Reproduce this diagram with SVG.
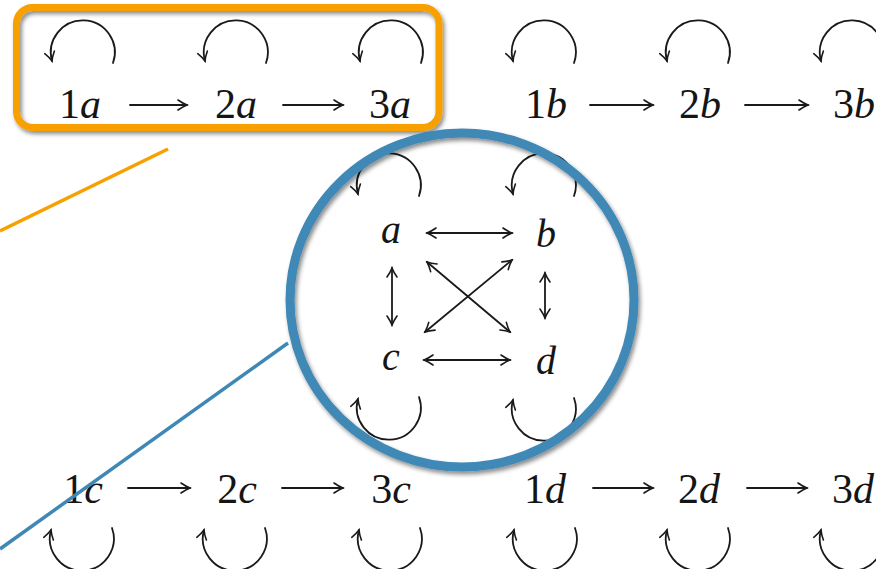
<svg xmlns="http://www.w3.org/2000/svg" xmlns:xlink="http://www.w3.org/1999/xlink" width="876" height="569" viewBox="0 0 876 569">
<style>
.lbl{font-family:"Liberation Serif","DejaVu Serif",serif;font-size:42px;fill:#151515;text-anchor:middle}
.sm{font-size:40px}
.it{font-style:italic}
.edge{fill:none;stroke:#1a1a1a;stroke-width:1.8;stroke-linecap:round}
.one{marker-end:url(#ah)}
.two{marker-end:url(#ah);marker-start:url(#ah)}
</style>
<defs>
<marker id="ah" markerUnits="userSpaceOnUse" viewBox="-11 -7 13 14" refX="0" refY="0" markerWidth="13" markerHeight="14" orient="auto-start-reverse">
<path d="M -9 -5 Q -4 -1.5 0 0 Q -4 1.5 -9 5" fill="none" stroke="#1a1a1a" stroke-width="1.6" stroke-linecap="round"/>
</marker>
<path id="loopTop" class="edge one" d="M 31 0 A 32 32 0 1 0 -30 -2"/>
<path id="loopBot" class="edge one" d="M 31 0 A 32 32 0 1 1 -30 2"/>
<filter id="sh" x="-20%" y="-20%" width="140%" height="140%">
<feDropShadow dx="2" dy="3" stdDeviation="2.2" flood-color="#000" flood-opacity="0.45"/>
</filter>
</defs>
<rect width="876" height="569" fill="#ffffff"/>

<g id="callout-lines">
<line x1="168" y1="149" x2="0" y2="231" stroke="#f7a000" stroke-width="3.5"/>
</g>

<g id="n1a"><text class="lbl" x="80" y="118">1<tspan class="it">a</tspan></text></g>
<g id="n2a"><text class="lbl" x="236" y="118">2<tspan class="it">a</tspan></text></g>
<g id="n3a"><text class="lbl" x="390" y="118">3<tspan class="it">a</tspan></text></g>
<g id="n1b"><text class="lbl" x="546" y="118">1<tspan class="it">b</tspan></text></g>
<g id="n2b"><text class="lbl" x="700" y="118">2<tspan class="it">b</tspan></text></g>
<g id="n3b"><text class="lbl" x="854" y="118">3<tspan class="it">b</tspan></text></g>
<g id="n1c"><text class="lbl" x="83" y="503">1<tspan class="it">c</tspan></text></g>
<g id="n2c"><text class="lbl" x="237" y="503">2<tspan class="it">c</tspan></text></g>
<g id="n3c"><text class="lbl" x="391" y="503">3<tspan class="it">c</tspan></text></g>
<g id="n1d"><text class="lbl" x="545" y="503">1<tspan class="it">d</tspan></text></g>
<g id="n2d"><text class="lbl" x="699" y="503">2<tspan class="it">d</tspan></text></g>
<g id="n3d"><text class="lbl" x="853" y="503">3<tspan class="it">d</tspan></text></g>

<g id="na"><text class="lbl sm it" x="391" y="243">a</text></g>
<g id="nb"><text class="lbl sm it" x="546" y="247">b</text></g>
<g id="nc"><text class="lbl sm it" x="391" y="370">c</text></g>
<g id="nd"><text class="lbl sm it" x="546" y="374">d</text></g>

<g id="connectors">
<line class="edge one" x1="130" y1="105" x2="187" y2="105"/>
<line class="edge one" x1="283" y1="105" x2="343" y2="105"/>
<line class="edge one" x1="590" y1="105" x2="653" y2="105"/>
<line class="edge one" x1="745" y1="105" x2="808" y2="105"/>
<line class="edge one" x1="128" y1="488" x2="190" y2="488"/>
<line class="edge one" x1="282" y1="488" x2="343" y2="488"/>
<line class="edge one" x1="593" y1="488" x2="653" y2="488"/>
<line class="edge one" x1="747" y1="488" x2="807" y2="488"/>
<use xlink:href="#loopTop" href="#loopTop" x="82" y="63"/>
<use xlink:href="#loopTop" href="#loopTop" x="235" y="63"/>
<use xlink:href="#loopTop" href="#loopTop" x="390" y="63"/>
<use xlink:href="#loopTop" href="#loopTop" x="543" y="63"/>
<use xlink:href="#loopTop" href="#loopTop" x="697" y="63"/>
<use xlink:href="#loopTop" href="#loopTop" x="851" y="63"/>
<use xlink:href="#loopBot" href="#loopBot" x="81" y="528"/>
<use xlink:href="#loopBot" href="#loopBot" x="234" y="528"/>
<use xlink:href="#loopBot" href="#loopBot" x="389" y="528"/>
<use xlink:href="#loopBot" href="#loopBot" x="544" y="528"/>
<use xlink:href="#loopBot" href="#loopBot" x="697" y="528"/>
<use xlink:href="#loopBot" href="#loopBot" x="851" y="528"/>
<use xlink:href="#loopTop" href="#loopTop" x="388" y="196"/>
<use xlink:href="#loopTop" href="#loopTop" x="543" y="196"/>
<use xlink:href="#loopBot" href="#loopBot" x="388" y="397"/>
<use xlink:href="#loopBot" href="#loopBot" x="543" y="398"/>
<line class="edge two" x1="427" y1="233" x2="512" y2="233"/>
<line class="edge two" x1="424" y1="360" x2="510" y2="360"/>
<line class="edge two" x1="392" y1="268" x2="392" y2="325"/>
<line class="edge two" x1="545" y1="273" x2="545" y2="318"/>
<line class="edge two" x1="427" y1="262" x2="510" y2="332"/>
<line class="edge two" x1="425" y1="332" x2="512" y2="260"/>
</g>

<g id="highlight-a">
<rect x="16.5" y="7.5" width="422.5" height="120" rx="16" ry="16" fill="none" stroke="#f7a000" stroke-width="7" filter="url(#sh)"/>
</g>
<g id="zoom-circle">
<line x1="288" y1="343" x2="0" y2="549" stroke="#3f88b5" stroke-width="3.5"/>
<ellipse cx="462" cy="300" rx="172" ry="167" fill="none" stroke="#3f88b5" stroke-width="9" filter="url(#sh)"/>
</g>
</svg>
